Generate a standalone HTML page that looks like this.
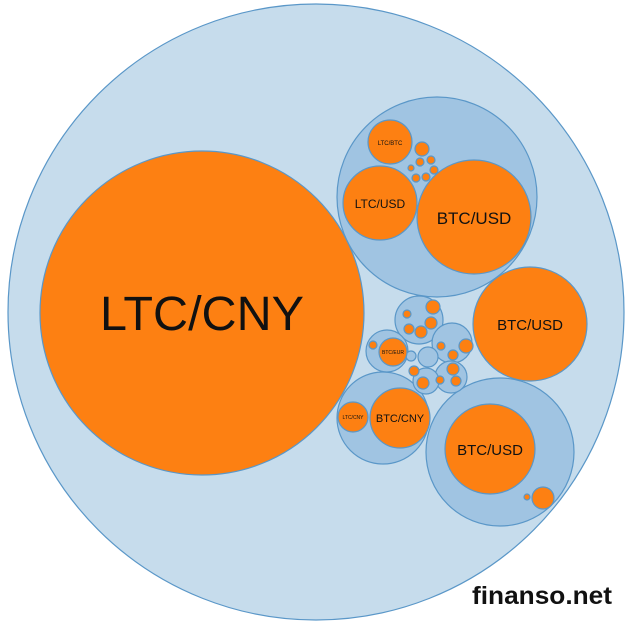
<html><body style="margin:0;background:#fff">
<svg width="628" height="623" viewBox="0 0 628 623" xmlns="http://www.w3.org/2000/svg" font-family="Liberation Sans, sans-serif">
<g stroke="#5a97c8" stroke-width="1.2">
<circle cx="316" cy="312" r="308" fill="#c6dcec"/>
<g fill="#a0c4e2">
<circle cx="437" cy="197" r="100"/>
<circle cx="500" cy="452" r="74"/>
<circle cx="383" cy="418" r="46"/>
<circle cx="419" cy="320" r="24"/>
<circle cx="387" cy="351" r="21"/>
<circle cx="452" cy="343" r="20"/>
<circle cx="451" cy="377" r="16"/>
<circle cx="428" cy="357" r="10"/>
<circle cx="426" cy="381" r="13"/>
<circle cx="411" cy="356" r="5"/>
</g>
<g fill="#fd8012">
<circle cx="202" cy="313" r="162"/>
<circle cx="390" cy="142" r="22"/>
<circle cx="380" cy="203" r="37"/>
<circle cx="474" cy="217" r="57"/>
<circle cx="530" cy="324" r="57"/>
<circle cx="490" cy="449" r="45"/>
<circle cx="543" cy="498" r="11"/>
<circle cx="527" cy="497" r="3"/>
<circle cx="400" cy="418" r="30"/>
<circle cx="353" cy="417" r="15"/>
<circle cx="393" cy="352" r="14"/>
<circle cx="373" cy="345" r="4"/>
<circle cx="433" cy="307" r="7"/>
<circle cx="431" cy="323" r="6"/>
<circle cx="421" cy="332" r="6"/>
<circle cx="409" cy="329" r="5"/>
<circle cx="407" cy="314" r="4"/>
<circle cx="466" cy="346" r="7"/>
<circle cx="453" cy="355" r="5"/>
<circle cx="441" cy="346" r="4"/>
<circle cx="453" cy="369" r="6"/>
<circle cx="456" cy="381" r="5"/>
<circle cx="440" cy="380" r="4"/>
<circle cx="423" cy="383" r="6"/>
<circle cx="414" cy="371" r="5"/>
<circle cx="422" cy="149" r="7"/>
<circle cx="420" cy="162" r="4"/>
<circle cx="431" cy="160" r="4"/>
<circle cx="434" cy="170" r="4"/>
<circle cx="426" cy="177" r="4"/>
<circle cx="416" cy="178" r="4"/>
<circle cx="411" cy="168" r="3"/>
</g>
</g>
<g text-anchor="middle" fill="#111">
<text x="202" y="330" font-size="48" textLength="204" lengthAdjust="spacingAndGlyphs">LTC/CNY</text>
<text x="474" y="224" font-size="17">BTC/USD</text>
<text x="530" y="330" font-size="15">BTC/USD</text>
<text x="490" y="455" font-size="15">BTC/USD</text>
<text x="380" y="208" font-size="12">LTC/USD</text>
<text x="400" y="422" font-size="11">BTC/CNY</text>
<text x="390" y="145" font-size="6">LTC/BTC</text>
<text x="353" y="419" font-size="5">LTC/CNY</text>
<text x="393" y="354" font-size="5">BTC/EUR</text>
</g>
<text x="612" y="604" font-size="25" font-weight="bold" text-anchor="end" fill="#111" textLength="140" lengthAdjust="spacingAndGlyphs">finanso.net</text>
</svg>
</body></html>
